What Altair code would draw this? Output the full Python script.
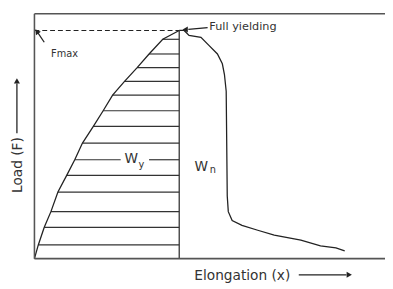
import altair as alt
import pandas as pd

# ---- data (x: elongation 0-100, y: load 0-100) ----
left_x = [0, 1.1, 2.8, 4.7, 6.7, 9.2, 11.5, 13.7, 16.8, 19.6, 22.3, 25.7, 29.3, 32.7, 36.6, 41.3]
left_y = [0, 5.6, 12.8, 19.2, 27.2, 34.0, 40.4, 47.2, 54.0, 60.4, 66.8, 72.4, 78.0, 83.6, 89.6, 93.2]

right_x = [41.3, 42.7, 44.1, 47.5, 49.7, 52.2, 53.6, 54.2, 54.7, 55.0, 55.3, 56.4, 59.2, 63.7, 68.4, 76.0, 81.6, 86.0, 88.5]
right_y = [93.2, 93.2, 91.2, 90.4, 87.2, 83.6, 79.6, 75.2, 68.4, 25.6, 19.2, 15.6, 13.6, 11.6, 9.6, 7.6, 5.2, 4.4, 3.2]

hatch_y = [89.6, 83.6, 78.0, 72.4, 66.8, 60.4, 54.0, 47.2, 34.0, 27.2, 19.2, 12.8, 5.6]
hatch_x0 = [36.6, 32.7, 29.3, 25.7, 22.3, 19.6, 16.8, 13.7, 9.2, 6.7, 4.7, 2.8, 1.1]

yield_x = 41.3
f_max = 93.2
wy_row_y = 40.4
wy_row_x0 = 11.5
wy_gap = [24.6, 32.7]

FONT = "DejaVu Sans"
INK = "#222222"
FRAME = "#555555"

xs = alt.Scale(domain=[0, 100])
ys = alt.Scale(domain=[0, 100])


def X(f="x"):
    return alt.X(f"{f}:Q", scale=xs, axis=None)


def Y(f="y"):
    return alt.Y(f"{f}:Q", scale=ys, axis=None)


# frame (top, bottom, left)
frame_h = pd.DataFrame({"x": [0, 0], "x2": [100, 100], "y": [100, 0]})
frame = alt.Chart(frame_h).mark_rule(color=FRAME, strokeWidth=1.6).encode(
    x=X(), x2="x2:Q", y=Y())
frame_v = alt.Chart(pd.DataFrame({"x": [0], "y": [0], "y2": [100]})).mark_rule(
    color=FRAME, strokeWidth=1.6).encode(x=X(), y=Y(), y2="y2:Q")

# curves
left_df = pd.DataFrame({"x": left_x, "y": left_y, "o": range(len(left_x))})
right_df = pd.DataFrame({"x": right_x, "y": right_y, "o": range(len(right_x))})
left_line = alt.Chart(left_df).mark_line(color=INK, strokeWidth=1.3).encode(
    x=X(), y=Y(), order="o:Q")
right_line = alt.Chart(right_df).mark_line(color=INK, strokeWidth=1.3).encode(
    x=X(), y=Y(), order="o:Q")

# hatch lines
h_x0 = hatch_x0 + [wy_row_x0, wy_gap[1]]
h_x1 = [yield_x] * len(hatch_x0) + [wy_gap[0], yield_x]
h_y = hatch_y + [wy_row_y, wy_row_y]
hatch_df = pd.DataFrame({"x": h_x0, "x2": h_x1, "y": h_y})
hatch = alt.Chart(hatch_df).mark_rule(color="#333333", strokeWidth=1.2).encode(
    x=X(), x2="x2:Q", y=Y())

# vertical line at full yielding
vline = alt.Chart(pd.DataFrame({"x": [yield_x], "y": [0], "y2": [f_max]})).mark_rule(
    color="#333333", strokeWidth=1.3).encode(x=X(), y=Y(), y2="y2:Q")

# dashed Fmax line
dash = alt.Chart(pd.DataFrame({"x": [0], "x2": [yield_x], "y": [f_max]})).mark_rule(
    color=INK, strokeWidth=1.2, strokeDash=[5, 3]).encode(x=X(), x2="x2:Q", y=Y())

# arrows: shafts
shafts_df = pd.DataFrame({
    "x": [2.8, 49.4, 75.4, -5.0],
    "y": [88.4, 94.4, -6.6, 51.2],
    "x2": [0.9, 43.9, 89.0, -5.0],
    "y2": [92.4, 93.7, -6.6, 71.5],
})
shafts = alt.Chart(shafts_df).mark_rule(color=INK, strokeWidth=1.3).encode(
    x=X(), y=Y(), x2="x2:Q", y2="y2:Q")

# arrow heads
def head(x, y, angle):
    return alt.Chart(pd.DataFrame({"x": [x], "y": [y]})).mark_point(
        shape="triangle-up", filled=True, size=38, color=INK, opacity=1, angle=angle
    ).encode(x=X(), y=Y())

heads = [
    head(0.7, 92.8, 324),    # Fmax
    head(43.0, 93.6, 270),   # Full yielding
    head(89.8, -6.6, 90),    # Elongation
    head(-5.0, 72.6, 0),     # Load
]

# texts
def txt(text, x, y, size, align="center", angle=0):
    return alt.Chart(pd.DataFrame({"x": [x], "y": [y], "t": [text]})).mark_text(
        font=FONT, fontSize=size, color="#333333", align=align, baseline="middle",
        angle=angle).encode(x=X(), y=Y(), text="t:N")

texts = [
    txt("Fmax", 8.6, 83.4, 10),
    txt("Full yielding", 49.9, 94.4, 11.5, align="left"),
    txt("W", 27.6, 40.6, 14),
    txt("y", 30.5, 38.2, 10),
    txt("W", 47.6, 37.6, 14),
    txt("n", 50.9, 36.2, 10),
    txt("Elongation (x)", 59.3, -7.2, 14),
    txt("Load (F)", -4.6, 38.2, 14, angle=270),
]

chart = alt.layer(
    hatch, vline, dash, left_line, right_line, frame, frame_v, shafts, *heads, *texts
).properties(
    width=358, height=250,
    padding={"left": 27, "top": 3, "right": 0, "bottom": 26},
    autosize="none",
    background="white",
).configure_view(strokeWidth=0)

chart.save("out.html", embed_options={"renderer": "svg", "actions": False})
